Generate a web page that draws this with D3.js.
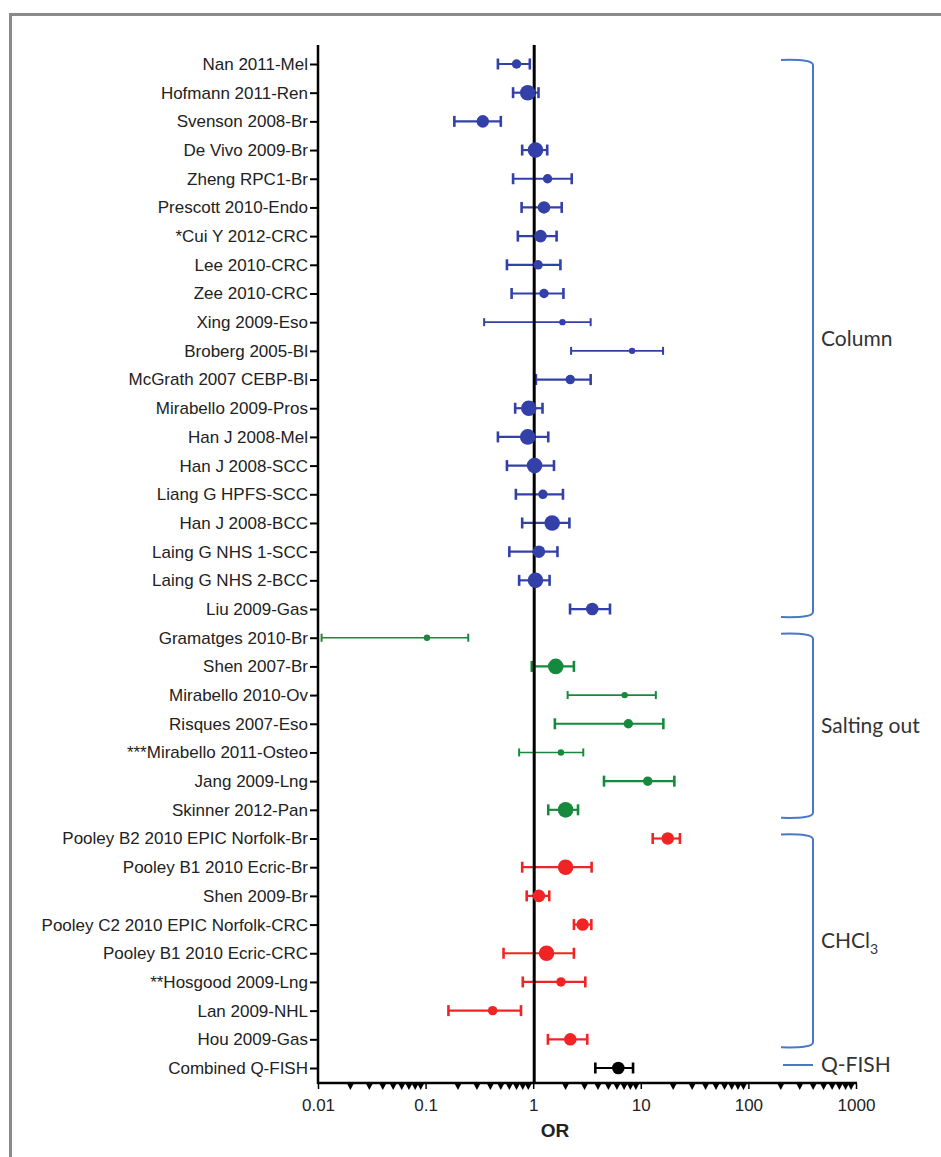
<!DOCTYPE html>
<html><head><meta charset="utf-8">
<script src="https://cdn.jsdelivr.net/npm/d3@7"></script>
<style>body{margin:0;background:#fff}svg{display:block}</style>
</head><body>
<script>
const studies = ["Nan 2011-Mel","Hofmann 2011-Ren","Svenson 2008-Br","De Vivo 2009-Br","Zheng RPC1-Br","Prescott 2010-Endo","*Cui Y 2012-CRC","Lee 2010-CRC","Zee 2010-CRC","Xing 2009-Eso","Broberg 2005-Bl","McGrath 2007 CEBP-Bl","Mirabello 2009-Pros","Han J 2008-Mel","Han J 2008-SCC","Liang G HPFS-SCC","Han J 2008-BCC","Laing G NHS 1-SCC","Laing G NHS 2-BCC","Liu 2009-Gas","Gramatges 2010-Br","Shen 2007-Br","Mirabello 2010-Ov","Risques 2007-Eso","***Mirabello 2011-Osteo","Jang 2009-Lng","Skinner 2012-Pan","Pooley B2 2010 EPIC Norfolk-Br","Pooley B1 2010 Ecric-Br","Shen 2009-Br","Pooley C2 2010 EPIC Norfolk-CRC","Pooley B1 2010 Ecric-CRC","**Hosgood 2009-Lng","Lan 2009-NHL","Hou 2009-Gas","Combined Q-FISH"];
const orValues = [0.70,0.89,0.34,1.05,1.36,1.26,1.17,1.11,1.26,1.87,8.3,2.21,0.91,0.89,1.03,1.23,1.50,1.13,1.05,3.54,0.103,1.62,7.08,7.66,1.81,11.6,2.00,17.8,2.00,1.13,2.88,1.33,1.81,0.42,2.21,6.18];
const ciLow = [0.47,0.65,0.185,0.79,0.65,0.78,0.72,0.57,0.63,0.35,2.25,1.06,0.68,0.47,0.57,0.69,0.79,0.60,0.74,2.20,0.0108,0.97,2.09,1.59,0.74,4.55,1.38,12.9,0.79,0.87,2.39,0.53,0.80,0.163,1.37,3.78];
const ciHigh = [0.93,1.12,0.50,1.35,2.28,1.84,1.65,1.79,1.91,3.42,16.1,3.42,1.22,1.38,1.56,1.89,2.17,1.68,1.42,5.17,0.249,2.39,13.8,16.2,2.92,20.5,2.61,23.1,3.49,1.41,3.47,2.39,3.05,0.77,3.18,8.47];
// study weight class (1 = small, 4 = large)
const weights = [2,4,3,4,2,3,3,2,2,1,1,2,4,4,4,2,4,3,4,3,1,4,1,2,1,2,4,3,4,3,3,4,2,2,3,3];
const groups = ["Column","Column","Column","Column","Column","Column","Column","Column","Column","Column","Column","Column","Column","Column","Column","Column","Column","Column","Column","Column","Salting out","Salting out","Salting out","Salting out","Salting out","Salting out","Salting out","CHCl3","CHCl3","CHCl3","CHCl3","CHCl3","CHCl3","CHCl3","CHCl3","Q-FISH"];
const groupNames = ["Column","Salting out","CHCl3","Q-FISH"];
const groupColors = {"Column":"#3340a8","Salting out":"#168a3c","CHCl3":"#f02424","Q-FISH":"#000000"};
const tickValues = [0.01,0.1,1,10,100,1000];
const tickLabels = ["0.01","0.1","1","10","100","1000"];

const W = 941, H = 1157;
const svg = d3.select("body").append("svg").attr("width", W).attr("height", H);

// frame
svg.append("line").attr("x1",9).attr("x2",W).attr("y1",14.5).attr("y2",14.5).attr("stroke","#8a8a8a").attr("stroke-width",3);
svg.append("line").attr("x1",10.5).attr("x2",10.5).attr("y1",13).attr("y2",H).attr("stroke","#8a8a8a").attr("stroke-width",3);

const x = d3.scaleLog().domain([0.01,1000]).range([318,856]);
const y = d3.scalePoint().domain(studies).range([64,1068]);
const r = d3.scaleLinear().domain([1,4]).range([3.2,7.8]);
const axisY = 1083, topY = 45;

const data = studies.map((s,i)=>({s, or:orValues[i], lo:ciLow[i], hi:ciHigh[i], w:weights[i], g:groups[i]}));

// error bars
const eb = svg.append("g");
data.forEach(d=>{
  const c = groupColors[d.g];
  const sw = d.w === 1 ? 1.6 : 2.2;
  const cap = d.w === 1 ? 4 : 5.5;
  const yy = y(d.s);
  eb.append("line").attr("x1",x(d.lo)).attr("x2",x(d.hi)).attr("y1",yy).attr("y2",yy).attr("stroke",c).attr("stroke-width",sw);
  [d.lo,d.hi].forEach(v=>{
    eb.append("line").attr("x1",x(v)).attr("x2",x(v)).attr("y1",yy-cap).attr("y2",yy+cap).attr("stroke",c).attr("stroke-width",sw+0.4);
  });
});

// vertical reference line at OR=1
svg.append("line").attr("x1",x(1)+1).attr("x2",x(1)+1).attr("y1",topY).attr("y2",axisY).attr("stroke","#000").attr("stroke-width",3);

// points
svg.append("g").selectAll("circle").data(data).join("circle")
  .attr("cx",d=>x(d.or)).attr("cy",d=>y(d.s)).attr("r",d=>r(d.w)).attr("fill",d=>groupColors[d.g]);

// left axis
const yAxis = d3.axisLeft(y).tickSize(8).tickPadding(2);
const gy = svg.append("g").attr("transform","translate(318,0)").call(yAxis);
gy.select(".domain").remove();
gy.selectAll(".tick line").attr("stroke","#000").attr("stroke-width",2);
gy.selectAll(".tick text").attr("font-family","Liberation Sans, Arial, sans-serif").attr("font-size",17).attr("fill","#222");
svg.append("line").attr("x1",318).attr("x2",318).attr("y1",topY).attr("y2",axisY+1).attr("stroke","#000").attr("stroke-width",2.5);

// bottom axis
svg.append("line").attr("x1",317).attr("x2",x(1000)+1).attr("y1",axisY).attr("y2",axisY).attr("stroke","#000").attr("stroke-width",2.5);
const gx = svg.append("g").attr("transform",`translate(0,${axisY})`)
  .call(d3.axisBottom(x).tickValues(tickValues).tickFormat((d,i)=>tickLabels[i]).tickSize(6).tickPadding(10));
gx.select(".domain").remove();
gx.selectAll(".tick line").attr("stroke","#000").attr("stroke-width",1.5);
gx.selectAll(".tick text").attr("font-family","Liberation Sans, Arial, sans-serif").attr("font-size",17).attr("fill","#222");
// minor ticks as small downward triangles
const minor = [];
for (let e=-2;e<3;e++) for (let k=2;k<10;k++) minor.push(k*Math.pow(10,e));
svg.append("g").selectAll("path").data(minor).join("path")
  .attr("d",d=>`M${x(d)-3.2},${axisY+1} L${x(d)+3.2},${axisY+1} L${x(d)},${axisY+7} Z`).attr("fill","#000");

svg.append("text").attr("x",555).attr("y",1137).attr("text-anchor","middle")
  .attr("font-family","Liberation Sans, Arial, sans-serif").attr("font-weight","bold").attr("font-size",19).attr("fill","#222").text("OR");

// brackets
const bc = "#4a78c8";
const bx0 = 781, bx1 = 813;
const bg = svg.append("g").attr("fill","none").attr("stroke",bc).attr("stroke-width",2);
const lab = svg.append("g").attr("font-family","Lato, Open Sans, sans-serif").attr("font-size",21).attr("fill","#333");
groupNames.forEach(g=>{
  const rows = data.filter(d=>d.g===g);
  const y0 = y(rows[0].s), y1 = y(rows[rows.length-1].s);
  if (rows.length > 1) {
    const t = y0 - 4, b = y1 + 8;
    bg.append("path").attr("d",`M${bx0},${t} Q${bx1},${t-1} ${bx1},${t+5} L${bx1},${b-5} Q${bx1},${b+1} ${bx0},${b}`);
    const mid = (t+b)/2;
    const tx = lab.append("text").attr("x",821).attr("y",mid+7);
    if (g === "CHCl3") {
      tx.text("CHCl");
      tx.append("tspan").attr("dy",6).attr("font-size",14).text("3");
    } else tx.text(g);
  } else {
    bg.append("line").attr("x1",bx0+2).attr("x2",bx1).attr("y1",y0-3).attr("y2",y0-3);
    lab.append("text").attr("x",821).attr("y",y0+4).text(g);
  }
});
</script>
</body></html>
